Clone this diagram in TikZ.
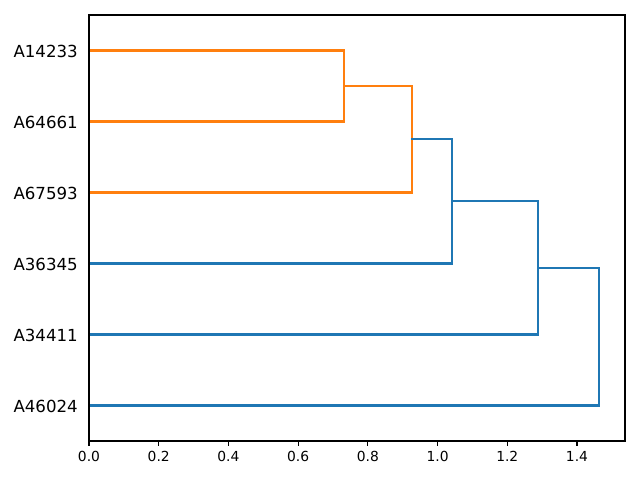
\documentclass[tikz,border=0pt]{standalone}
\usepackage{fontspec}
\setmainfont{DejaVu Sans}
\usetikzlibrary{positioning}

\begin{document}
\begin{tikzpicture}[
  x=0.01in, y=-0.01in,
  link/.style={line width=1.5bp, line cap=rect},
  spine/.style={line width=0.8bp, line cap=rect},
  leaflabel/.style={anchor=base east, inner sep=0pt, font=\fontsize{12}{14}\selectfont},
  ticklabel/.style={anchor=base, inner sep=0pt, font=\fontsize{10}{12}\selectfont},
]
\definecolor{mplorange}{HTML}{FF7F0E}
\definecolor{mplblue}{HTML}{1F77B4}
\fill[white] (0,0) rectangle (640,480);

% leaves (right end at x=0)
\coordinate (l1) at (89,50.5);
\coordinate (l2) at (89,121.5);
\coordinate (l3) at (89,192.5);
\coordinate (l4) at (89,263.5);
\coordinate (l5) at (89,334.5);
\coordinate (l6) at (89,405.5);

\node[leaflabel] (n1) at (78,57.5) {A14233};
\node[leaflabel] (n2) at (78,128.5) {A64661};
\node[leaflabel] (n3) at (78,199.5) {A67593};
\node[leaflabel] (n4) at (78,270.5) {A36345};
\node[leaflabel] (n5) at (78,341.5) {A34411};
\node[leaflabel] (n6) at (78,412.5) {A46024};

% merges
\coordinate (m1) at (344,86);
\coordinate (m2) at (412,139.25);
\coordinate (m3) at (452,201.4);
\coordinate (m4) at (538,267.9);

\draw[link, mplorange] (l1) -| (m1) |- (l2);
\draw[link, mplorange] (m1) -| (m2) |- (l3);
\draw[link, mplblue] (m2) -| (m3) |- (l4);
\draw[link, mplblue] (m3) -| (m4) |- (l5);
\draw[link, mplblue] (m4) -| (599,405.5) -- (l6);

% axes
\draw[spine] (89,15) rectangle (625,441);
\foreach \t [count=\i from 0] in {0.0,0.2,0.4,0.6,0.8,1.0,1.2,1.4} {
  \draw[spine] ({89+\i*69.714},441) -- ++(0,4.86);
  \node[ticklabel] (t\i) at ({89+\i*69.714},461.5) {\t};
}
\end{tikzpicture}
\end{document}
